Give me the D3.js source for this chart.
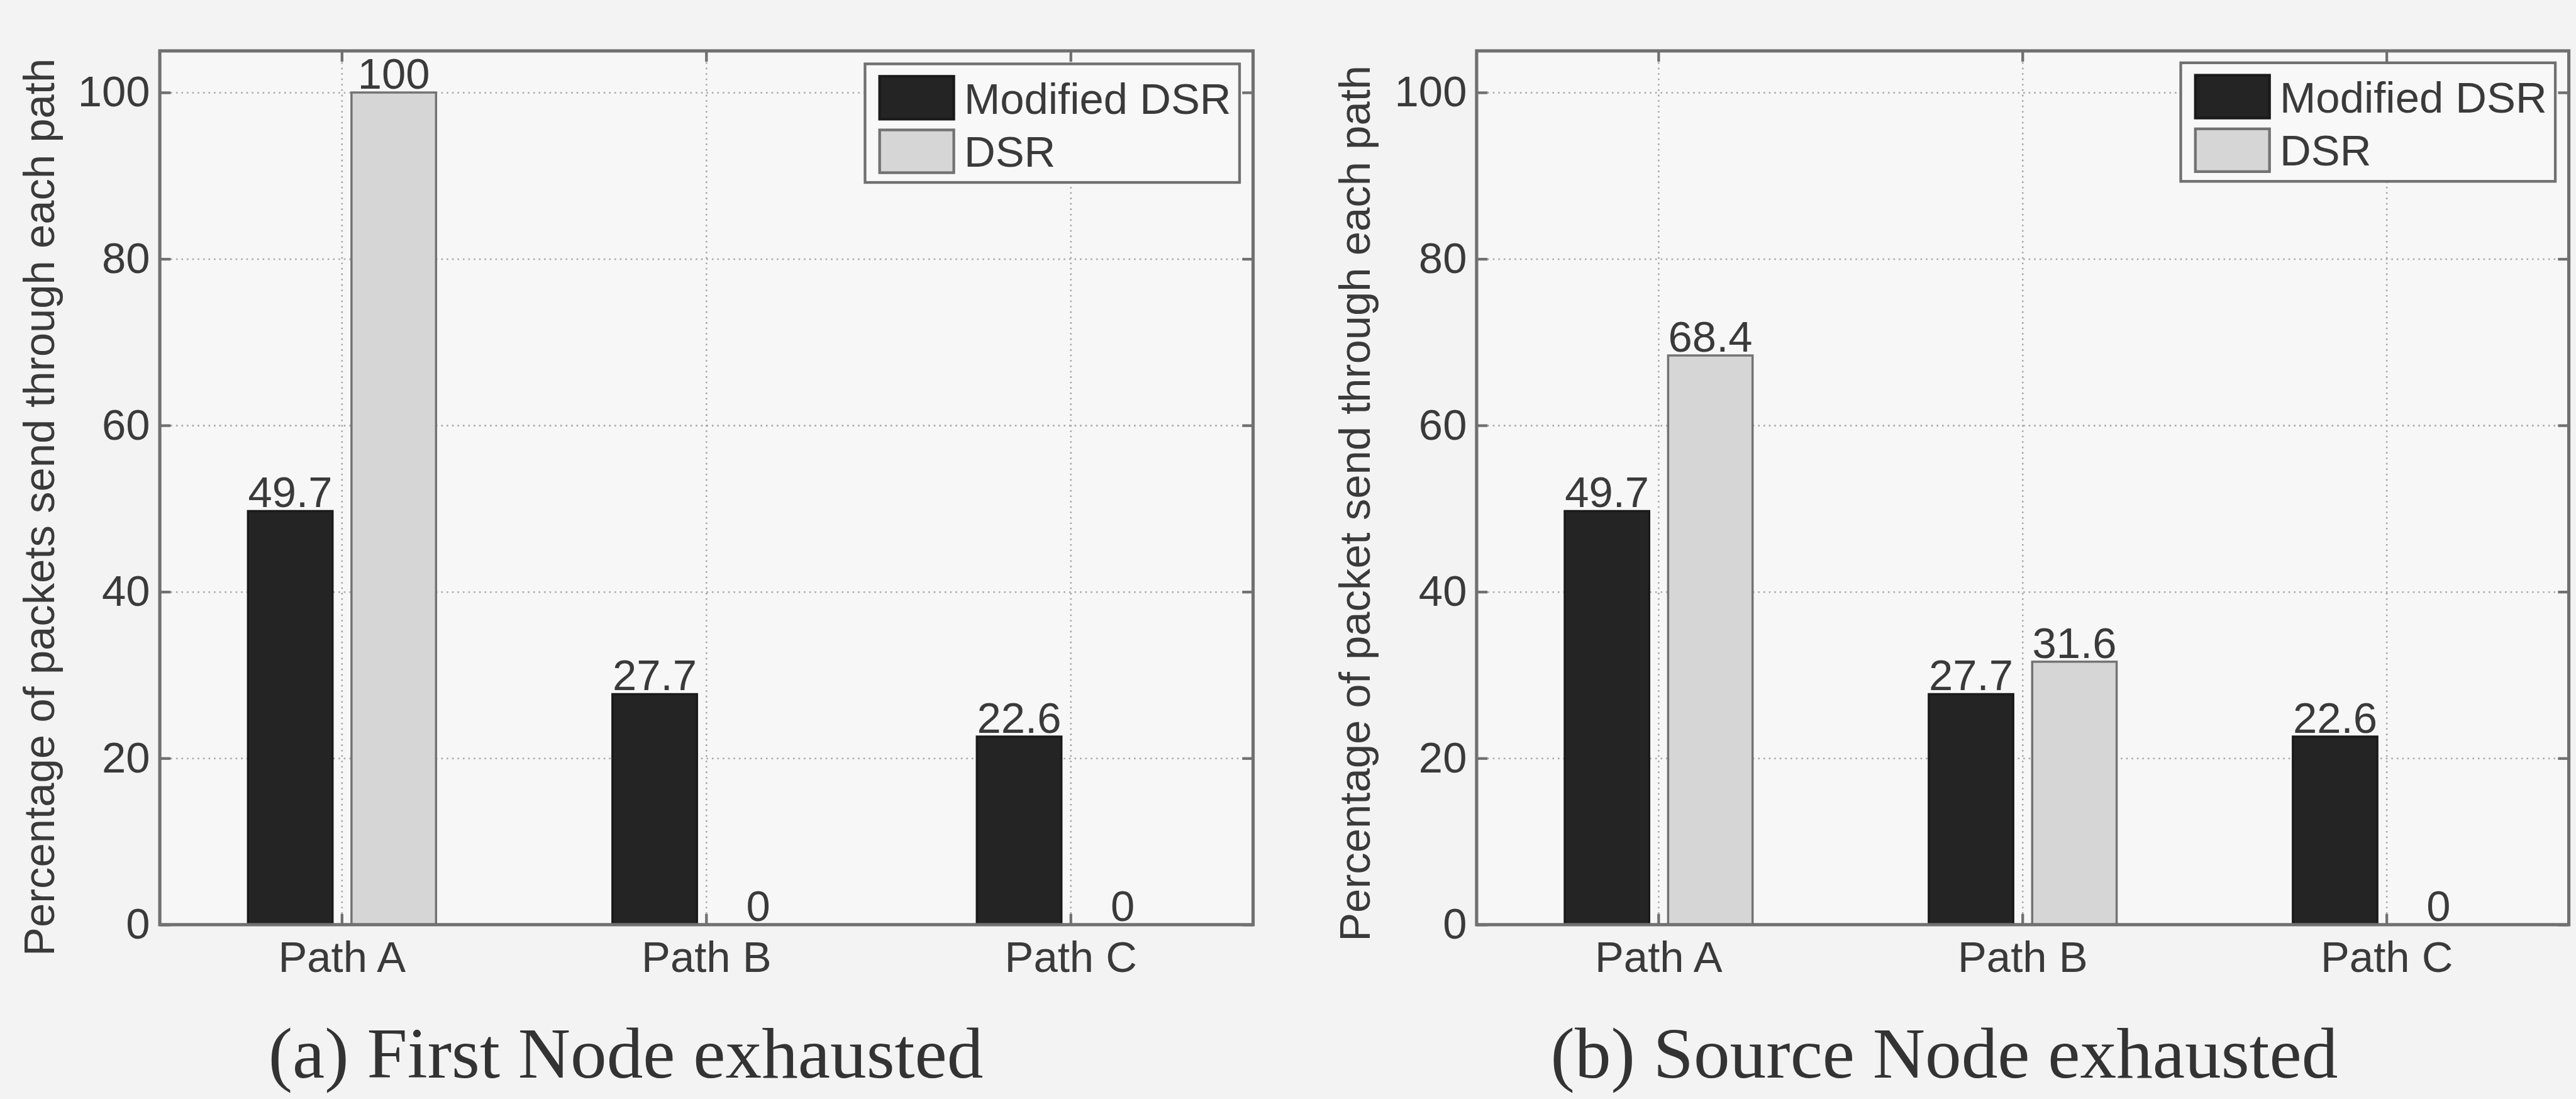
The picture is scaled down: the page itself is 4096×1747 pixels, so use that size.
<!DOCTYPE html>
<html>
<head>
<meta charset="utf-8">
<script src="https://cdn.jsdelivr.net/npm/d3@7"></script>
<style>
  html, body { margin: 0; padding: 0; background: #f3f3f3; overflow: hidden; }
  svg { display: block; }
  .tick text { font-family: "Liberation Sans", Arial, sans-serif; }
</style>
</head>
<body>
<script>
// data
var categories = ["Path A", "Path B", "Path C"];
var seriesNames = ["Modified DSR", "DSR"];
var firstNodeModified = [49.7, 27.7, 22.6];
var firstNodeDSR = [100, 0, 0];
var sourceNodeModified = [49.7, 27.7, 22.6];
var sourceNodeDSR = [68.4, 31.6, 0];
var yTicks = [0, 20, 40, 60, 80, 100];

// drawn in reference pixels, the viewBox shrinks it to 0.86
var svg = d3.select("body").append("svg")
            .attr("width", 4096)
            .attr("height", 1747)
            .attr("viewBox", "0 0 4759 2030");

svg.append("rect").attr("width", 4759).attr("height", 2030).attr("fill", "#f3f3f3");

var sans = '"Liberation Sans", Arial, sans-serif';
var txt = "#3a3a3a";
var axisCol = "#707070";
var fills = ["#242424", "#d6d6d6"];
var edges = ["#1a1a1a", "#727272"];

var panels = [
  { left: 295, right: 2315, top: 94, bottom: 1708,
    ylabel: "Percentage of packets send through each path", ylabelX: 100, ylabelY: 937,
    caption: "(a) First Node exhausted", captionX: 1156,
    legendX: 1598, legendY: 118,
    series: [firstNodeModified, firstNodeDSR] },
  { left: 2728, right: 4746, top: 94, bottom: 1708,
    ylabel: "Percentage of packet send through each path", ylabelX: 2530, ylabelY: 930,
    caption: "(b) Source Node exhausted", captionX: 3592,
    legendX: 4029, legendY: 116,
    series: [sourceNodeModified, sourceNodeDSR] }
];

panels.forEach(function (p) {
  var w = p.right - p.left, h = p.bottom - p.top;
  var g = svg.append("g").attr("transform", "translate(" + p.left + "," + p.top + ")");

  var x = d3.scaleBand().domain(categories).range([0, w]).padding(0);
  var bw = x.bandwidth();
  var xs = d3.scaleBand().domain(seriesNames)
             .range([bw * 0.242, bw * 0.758]).paddingInner(0.183);
  var y = d3.scaleLinear().domain([0, 105]).range([h, 0]);

  g.append("rect").attr("width", w).attr("height", h).attr("fill", "#f7f7f7");

  // dotted grid
  var gridY = g.append("g").call(d3.axisLeft(y).tickValues(yTicks.slice(1)).tickSize(-w).tickFormat(""));
  var gridX = g.append("g").attr("transform", "translate(0," + h + ")")
               .call(d3.axisBottom(x).tickSize(-h).tickFormat(""));
  [gridY, gridX].forEach(function (gg) {
    gg.select(".domain").remove();
    gg.selectAll("line").attr("stroke", "#a8a8a8").attr("stroke-width", 3)
      .attr("stroke-dasharray", "3,7");
  });

  // bars
  var rows = [];
  p.series.forEach(function (vals, si) {
    vals.forEach(function (v, ci) {
      rows.push({ cat: categories[ci], s: si, name: seriesNames[si], v: v });
    });
  });

  g.selectAll(".bar").data(rows).enter().append("rect")
   .attr("class", "bar")
   .attr("x", function (d) { return x(d.cat) + xs(d.name); })
   .attr("y", function (d) { return y(d.v); })
   .attr("width", xs.bandwidth())
   .attr("height", function (d) { return h - y(d.v); })
   .attr("fill", function (d) { return fills[d.s]; })
   .attr("stroke", function (d) { return edges[d.s]; })
   .attr("stroke-width", 4);

  g.selectAll(".val").data(rows).enter().append("text")
   .attr("class", "val")
   .attr("x", function (d) { return x(d.cat) + xs(d.name) + xs.bandwidth() / 2; })
   .attr("y", function (d) { return y(d.v) - 7; })
   .attr("text-anchor", "middle")
   .attr("font-family", sans).attr("font-size", 80).attr("fill", txt)
   .text(function (d) { return String(d.v); });

  // axes, ticks pointing inward
  var yl = g.append("g").call(d3.axisLeft(y).tickValues(yTicks).tickSize(-20).tickPadding(18));
  var yr = g.append("g").attr("transform", "translate(" + w + ",0)")
            .call(d3.axisRight(y).tickValues(yTicks).tickSize(-20).tickFormat(""));
  var xb = g.append("g").attr("transform", "translate(0," + h + ")")
            .call(d3.axisBottom(x).tickSize(-20).tickPadding(30));
  var xt = g.append("g").call(d3.axisTop(x).tickSize(-20).tickFormat(""));
  [yl, yr, xb, xt].forEach(function (a) {
    a.select(".domain").remove();
    a.selectAll("line").attr("stroke", axisCol).attr("stroke-width", 5);
    a.selectAll("text").attr("font-size", 80).attr("fill", txt).attr("font-family", sans);
  });

  g.append("rect").attr("width", w).attr("height", h)
   .attr("fill", "none").attr("stroke", axisCol).attr("stroke-width", 6);

  // legend
  var lg = svg.append("g").attr("transform", "translate(" + p.legendX + "," + p.legendY + ")");
  lg.append("rect").attr("width", 692).attr("height", 219)
    .attr("fill", "#f8f8f8").attr("stroke", axisCol).attr("stroke-width", 5);
  seriesNames.forEach(function (n, i) {
    lg.append("rect").attr("x", 27).attr("y", 23 + i * 99).attr("width", 137).attr("height", 79)
      .attr("fill", fills[i]).attr("stroke", edges[i]).attr("stroke-width", 5);
    lg.append("text").attr("x", 183).attr("y", 92 + i * 98)
      .attr("font-family", sans).attr("font-size", 80).attr("fill", txt).text(n);
  });

  // y label
  svg.append("text")
     .attr("transform", "translate(" + p.ylabelX + "," + p.ylabelY + ") rotate(-90)")
     .attr("text-anchor", "middle")
     .attr("font-family", sans).attr("font-size", 80).attr("fill", txt)
     .text(p.ylabel);

  // caption
  svg.append("text")
     .attr("x", p.captionX).attr("y", 1990)
     .attr("text-anchor", "middle")
     .attr("font-family", '"Liberation Serif", "DejaVu Serif", serif')
     .attr("font-size", 134).attr("fill", "#333")
     .text(p.caption);
});
</script>
</body>
</html>
